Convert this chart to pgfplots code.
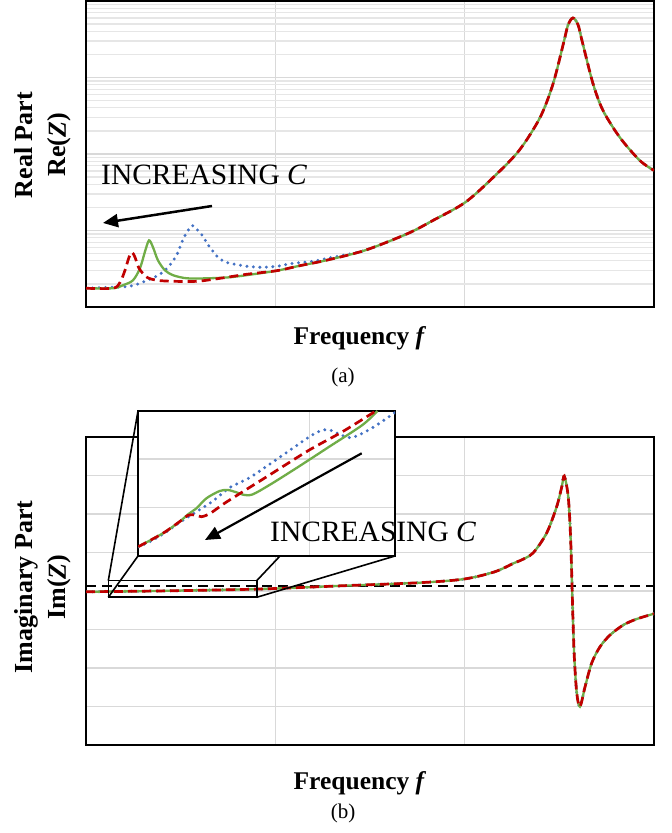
\documentclass[border=0pt]{standalone}
\usepackage{pgfplots}
\pgfplotsset{compat=1.18}
\usepackage{fontspec}
\setmainfont{Liberation Serif}
\usetikzlibrary{arrows.meta}
\definecolor{gridmaj}{HTML}{D9D9D9}
\definecolor{gridmin}{HTML}{E6E6E6}
\definecolor{cblue}{HTML}{4472C4}
\definecolor{cgreen}{HTML}{70AD47}
\definecolor{cred}{HTML}{C00000}
\pgfplotsset{
  blueS/.style={cblue, line width=3.3pt, line cap=round, dash pattern=on 0pt off 6.5pt, smooth},
  greenS/.style={cgreen, line width=2.3pt, smooth},
  redS/.style={cred, line width=2.7pt, dash pattern=on 9pt off 5pt, smooth},
  frame/.style={scale only axis, anchor=south west, xticklabels={}, yticklabels={},
    tick style={draw=none}, axis line style={line width=2.2pt}, clip=true},
}
\begin{document}
\begin{tikzpicture}[x=1pt,y=1pt]
\useasboundingbox (0,0) rectangle (672,833);
% ---------------- (a) real part ----------------
\begin{axis}[frame, at={(86pt,526pt)}, width=568pt, height=306pt,
  xmin=0, xmax=3, ymin=0, ymax=4,
  xtick={1,2}, ytick={1,2,3},
  minor ytick={0.301,0.477,0.602,0.699,0.778,0.845,0.903,0.954,
    1.301,1.477,1.602,1.699,1.778,1.845,1.903,1.954,
    2.301,2.477,2.602,2.699,2.778,2.845,2.903,2.954,
    3.301,3.477,3.602,3.699,3.778,3.845,3.903,3.954},
  grid=both, major grid style={draw=gridmaj, line width=1.4pt},
  minor grid style={draw=gridmin, line width=1.1pt}]
\addplot[blueS] coordinates {
 (0,0.245) (0.143,0.258) (0.232,0.271) (0.312,0.336) (0.391,0.428) (0.428,0.506)
 (0.454,0.584) (0.481,0.688) (0.512,0.884) (0.533,0.975) (0.560,1.066) (0.586,1.014)
 (0.618,0.923) (0.639,0.832) (0.671,0.728) (0.697,0.649) (0.739,0.584) (0.787,0.558)
 (0.850,0.532) (0.930,0.519) (1.009,0.532) (1.093,0.571) (1.199,0.597) (1.273,0.636)
 (1.474,0.741) (1.701,0.962) (1.833,1.132) (2.002,1.366) (2.150,1.692) (2.287,2.044)
 (2.398,2.476) (2.467,2.919) (2.525,3.479) (2.546,3.687) (2.572,3.779) (2.599,3.687)
 (2.620,3.479) (2.678,2.919) (2.731,2.567) (2.820,2.215) (2.925,1.915) (3.0,1.785)};
\addplot[greenS] coordinates {
 (0,0.245) (0.143,0.245) (0.195,0.284) (0.248,0.349) (0.285,0.506) (0.312,0.728)
 (0.333,0.871) (0.354,0.780) (0.380,0.610) (0.417,0.480) (0.460,0.415) (0.533,0.375)
 (0.639,0.375) (0.761,0.389) (0.882,0.428) (1.009,0.475) (1.13,0.54) (1.268,0.61)
 (1.474,0.741) (1.701,0.962) (1.833,1.132) (2.002,1.366) (2.150,1.692) (2.287,2.044)
 (2.398,2.476) (2.467,2.919) (2.525,3.479) (2.546,3.687) (2.572,3.779) (2.599,3.687)
 (2.620,3.479) (2.678,2.919) (2.731,2.567) (2.820,2.215) (2.925,1.915) (3.0,1.785)};
\addplot[redS] coordinates {
 (0,0.245) (0.143,0.245) (0.180,0.323) (0.206,0.480) (0.227,0.649) (0.243,0.714)
 (0.259,0.649) (0.280,0.506) (0.322,0.389) (0.375,0.349) (0.460,0.336) (0.586,0.336)
 (0.708,0.375) (0.850,0.428) (1.009,0.475) (1.13,0.54) (1.268,0.61)
 (1.474,0.741) (1.701,0.962) (1.833,1.132) (2.002,1.366) (2.150,1.692) (2.287,2.044)
 (2.398,2.476) (2.467,2.919) (2.525,3.479) (2.546,3.687) (2.572,3.779) (2.599,3.687)
 (2.620,3.479) (2.678,2.919) (2.731,2.567) (2.820,2.215) (2.925,1.915) (3.0,1.785)};
\end{axis}
\draw[line width=2.5pt, -{Triangle[length=15pt,width=13pt]}] (212,627) -- (103,610);
\node[anchor=base west, inner sep=0pt, font=\fontsize{29.5}{30}\selectfont] at (101,648) {INCREASING \textit{C}};
\node[rotate=90, align=center, font=\fontsize{26}{33}\selectfont\bfseries] at (43,688) {Real Part\\Re(\textit{Z})};
\node[anchor=base, inner sep=0pt, font=\fontsize{25.5}{26}\selectfont\bfseries] at (360,488) {Frequency \textit{f}};
\node[anchor=base, inner sep=0pt, font=\fontsize{21}{22}\selectfont] at (343,450) {(a)};
% ---------------- (b) imaginary part ----------------
\begin{axis}[frame, at={(86pt,88pt)}, width=568pt, height=308pt,
  xmin=0, xmax=3, ymin=-4, ymax=4,
  xtick={1,2}, ytick={-3,-2,-1,0,1,2,3},
  grid=major, major grid style={draw=gridmaj, line width=1.4pt}]
\addplot[black, line width=2pt, dash pattern=on 10pt off 6pt] coordinates {(0,0.13) (3,0.13)};
\pgfplotstableread{
u v
0 -0.02
0.370 0
0.908 0.05
1.365 0.138
1.764 0.216
1.999 0.312
2.160 0.501
2.261 0.727
2.292 0.787
2.361 0.987
2.433 1.506
2.486 2.190
2.513 2.709
2.526 2.987
2.547 2.449
2.560 1.325
2.571 -0.571
2.579 -1.706
2.592 -2.649
2.609 -3.005
2.636 -2.486
2.671 -1.870
2.715 -1.447
2.768 -1.143
2.838 -0.883
2.909 -0.727
3.0 -0.59
}\imdata
\addplot[blueS] table[x=u,y=v] {\imdata};
\addplot[greenS] table[x=u,y=v] {\imdata};
\addplot[redS] table[x=u,y=v] {\imdata};
\end{axis}
% zoom box and connectors
\draw[line width=1.6pt] (108.3,235.7) rectangle (256.7,252.3);
\draw[line width=1.6pt] (108.3,252.3) -- (138,422);
\draw[line width=1.6pt] (108.3,235.7) -- (138,277);
\draw[line width=1.6pt] (256.7,252.3) -- (280,277);
\draw[line width=1.6pt] (256.7,235.7) -- (395,277);
% inset
\begin{axis}[frame, at={(138pt,277pt)}, width=257pt, height=145pt,
  xmin=0, xmax=258, ymin=0, ymax=145,
  xtick={172}, ytick={48.4,96.8},
  axis background/.style={fill=white},
  axis line style={line width=2pt},
  grid=major, major grid style={draw=gridmaj, line width=1.4pt}]
\addplot[blueS] coordinates {
 (0.3,9.3) (12,14.3) (28.7,24.3) (42,33.7) (58.7,44.3) (75.3,55) (92,68.3) (112,78.3)
 (132,91.7) (155.3,107.7) (173.7,120.3) (185.3,126) (193.7,125.7) (203.7,121)
 (213.7,118.3) (225.3,122.7) (238.7,130.3) (252,139.3) (258.7,144)};
\addplot[greenS] coordinates {
 (0.3,9.3) (25,22.7) (41.7,34.3) (50.3,41.7) (58.7,47.7) (68.7,57.7) (82,65) (90.3,66)
 (98.7,63.7) (107,61) (115.3,61.7) (132,71) (158.7,87.7) (192,109.3) (225.3,131) (240.3,145)};
\addplot[redS] coordinates {
 (0.3,9.3) (25,22.7) (41.7,34.3) (50.3,40.7) (57,41) (63.7,39.3) (72,42.3) (82,49.3)
 (92,56) (132,81) (172,106) (205.3,124.3) (238.7,145)};
\end{axis}
\draw[line width=2.2pt, -{Triangle[length=15pt,width=13pt]}] (361.7,379.7) -- (205,293);
\node[anchor=base west, inner sep=0pt, font=\fontsize{29.5}{30}\selectfont] at (270,291.3) {INCREASING \textit{C}};
\node[rotate=90, align=center, font=\fontsize{26}{33}\selectfont\bfseries] at (43,246) {Imaginary Part\\Im(\textit{Z})};
\node[anchor=base, inner sep=0pt, font=\fontsize{25.5}{26}\selectfont\bfseries] at (360,43) {Frequency \textit{f}};
\node[anchor=base, inner sep=0pt, font=\fontsize{21}{22}\selectfont] at (343,14) {(b)};
\end{tikzpicture}
\end{document}
